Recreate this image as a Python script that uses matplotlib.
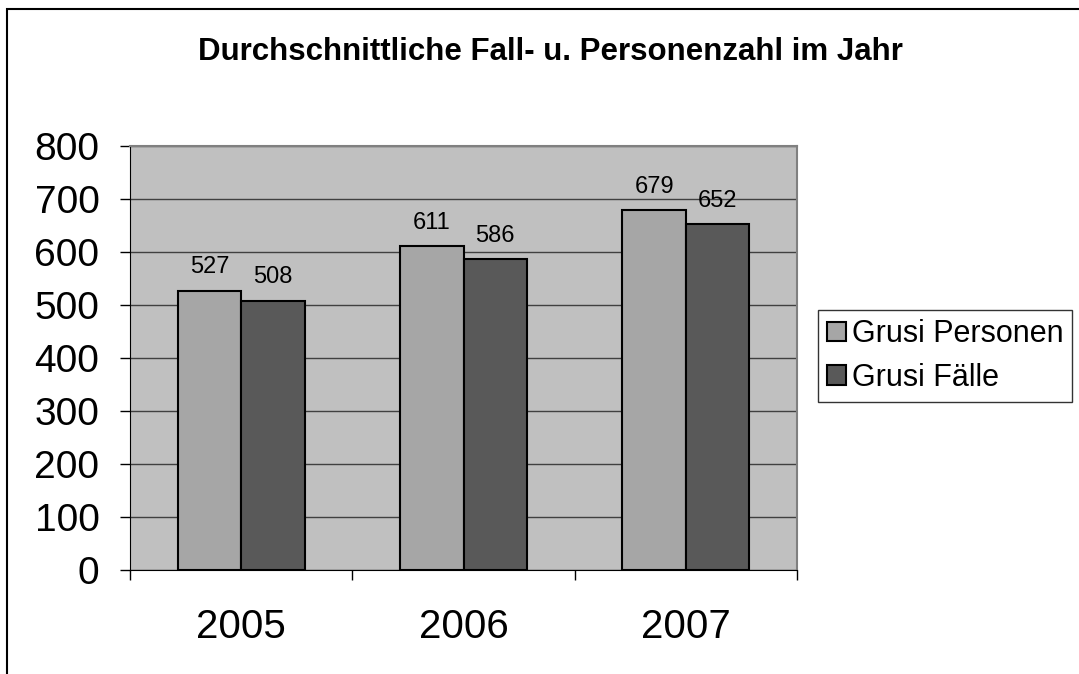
import matplotlib
matplotlib.use("Agg")
import matplotlib.pyplot as plt
import matplotlib.patches as mpatches
import numpy as np

plt.rcParams['font.family'] = ['Liberation Sans', 'DejaVu Sans']

years = ['2005', '2006', '2007']
personen = [527, 611, 679]
faelle = [508, 586, 652]
series_names = ['Grusi Personen', 'Grusi Fälle']
title = 'Durchschnittliche Fall- u. Personenzahl im Jahr'

W, H = 1079, 674
fig = plt.figure(figsize=(W/100, H/100), dpi=100)
ax = fig.add_axes([130/W, 1-570/H, (797-130)/W, (570-146)/H])
ax.set_facecolor('#C0C0C0')

x = np.arange(len(years))
bw = 1/3.5
b1 = ax.bar(x - bw/2, personen, bw, color='#A6A6A6', edgecolor='black', linewidth=1.5, zorder=3, label=series_names[0])
b2 = ax.bar(x + bw/2, faelle, bw, color='#595959', edgecolor='black', linewidth=1.5, zorder=3, label=series_names[1])

for bars, vals in ((b1, personen), (b2, faelle)):
    for r, v in zip(bars, vals):
        ax.annotate(str(v), (r.get_x() + r.get_width()/2, v), xytext=(0, 9), textcoords='offset points',
                    ha='center', va='bottom', fontsize=17, zorder=4)

ax.set_xlim(-0.5, len(years) - 0.5)
ax.set_ylim(0, 800)
ax.set_yticks(np.arange(0, 801, 100))
ax.tick_params(axis='y', labelsize=28, length=7, width=1, direction='out', pad=15)
ax.set_xticks(x)
ax.set_xticklabels(years)
ax.tick_params(axis='x', which='major', length=0, labelsize=29, pad=27)
ax.set_xticks(np.arange(-0.5, len(years), 1), minor=True)
ax.tick_params(axis='x', which='minor', length=7, width=1, direction='out')
ax.yaxis.grid(True, color='#404040', linewidth=1, zorder=1)
ax.set_axisbelow(True)

ax.spines['top'].set_color('#808080')
ax.spines['right'].set_color('#808080')
ax.spines['top'].set_linewidth(1.5)
ax.spines['right'].set_linewidth(1.5)
ax.spines['left'].set_color('black')
ax.spines['bottom'].set_color('black')

fig.text(550/W, 1-52/H, title, ha='center', va='center', fontsize=22.5, fontweight='bold')

leg = fig.legend(handles=[b1, b2], labels=series_names, loc='upper left',
                 bbox_to_anchor=(818/W, 1-310/H), fontsize=22, frameon=True, fancybox=False,
                 edgecolor='black', handlelength=0.62, handleheight=0.62, handletextpad=0.18,
                 borderpad=0.3, labelspacing=0.45, borderaxespad=0)
leg.get_frame().set_linewidth(1)

frame = mpatches.Rectangle((7/W, -0.1), 1.2, 1 - 9/H + 0.1, transform=fig.transFigure,
                           fill=False, edgecolor='black', linewidth=1.5)
fig.patches.append(frame)

fig.savefig('out.png', dpi=100)
